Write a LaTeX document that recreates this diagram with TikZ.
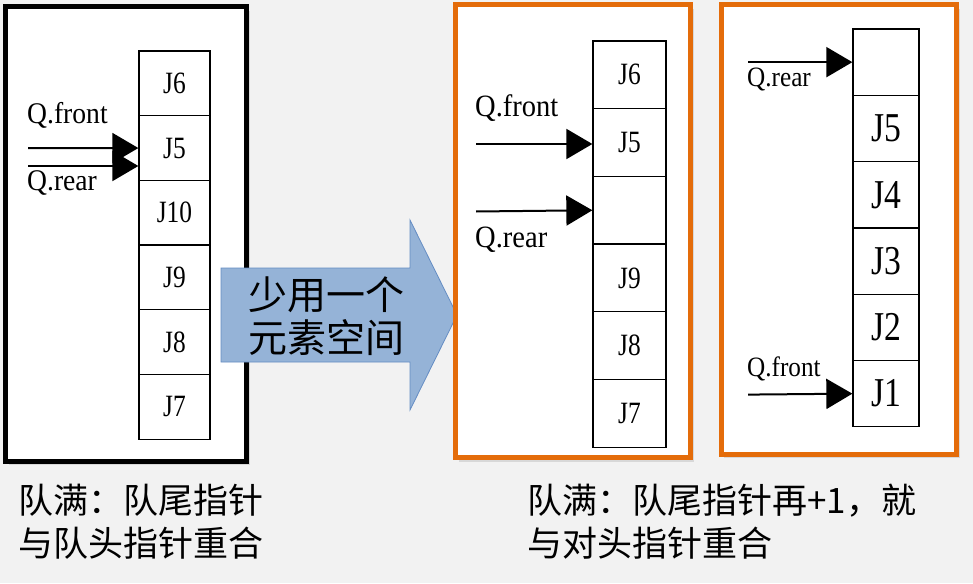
\documentclass[tikz,border=0pt]{standalone}
\usepackage{fontspec}
\setmainfont{Liberation Serif}
\newfontfamily\cjk{Noto Sans CJK SC}
\usetikzlibrary{arrows.meta}
\definecolor{pagebg}{RGB}{242,242,242}
\definecolor{frameorange}{RGB}{228,108,10}
\definecolor{arrowfill}{RGB}{149,179,215}
\definecolor{arrowedge}{RGB}{100,140,195}
% narrow serif lettering for the queue slots
\newcommand\slimtext[1]{\scalebox{0.82}[1]{#1}}
\begin{document}
\begin{tikzpicture}[x=1pt,y=-1pt,
  cellA/.style={draw, line width=1.3pt, inner sep=0pt, minimum width=71pt, minimum height=64.7pt, font=\fontsize{31}{31}\selectfont},
  cellB/.style={draw, line width=1.3pt, inner sep=0pt, minimum width=73pt, minimum height=67.7pt, font=\fontsize{31}{31}\selectfont},
  cellC/.style={draw, line width=1.3pt, inner sep=0pt, minimum width=66pt, minimum height=66.3pt, font=\fontsize{41}{41}\selectfont},
  qlabel/.style={anchor=west, inner sep=0pt, font=\fontsize{#1}{#1}\selectfont},
  ptr/.style={line width=2pt, -{Triangle[length=26pt,width=30pt]}},
  shadowbox/.style={fill=black!22, opacity=0.6},
  caption/.style={anchor=west, align=left, inner sep=0pt, font=\cjk\fontsize{35}{43}\selectfont}
]
\useasboundingbox (0,0) rectangle (973,583);
\fill[pagebg] (0,0) rectangle (973,583);

% ---- panel 1: full queue ----
\fill[shadowbox] (9,11) rectangle (250,465);
\draw[line width=5pt, fill=white] (5,7) rectangle (246,461);
\foreach \t [count=\i] in {J6,J5,J10,J9,J8,J7}
  \node[cellA] (a\i) at (174.5, {51+64.7*(\i-0.5)}) {\slimtext{\t}};
\coordinate (afs) at (28,148.05);
\coordinate (ars) at (28,166);
\draw[ptr] (afs) -- (a2.west);
\draw[ptr] (ars) -- (ars -| a2.west);
\node[qlabel=30] (afl) at (27,115) {\scalebox{0.92}[1]{Q.front}};
\node[qlabel=30] (arl) at (27,183) {\scalebox{0.92}[1]{Q.rear}};

% ---- transition arrow ----
\draw[arrowedge, line width=0.8pt, fill=arrowfill]
  (221,268) -- (410,268) -- (410,220) -- (457,315) -- (410,410) -- (410,362) -- (221,362) -- cycle;
\node[align=center, inner sep=0pt, font=\cjk\fontsize{39}{43}\selectfont] (shrink) at (326,316) {少用一个\\元素空间};

% ---- panel 2: one slot left empty ----
\fill[shadowbox] (459,9) rectangle (694,462);
\draw[frameorange, line width=5pt, fill=white] (455,5) rectangle (690,457);
\foreach \t [count=\i] in {J6,J5,\phantom{J},J9,J8,J7}
  \node[cellB] (b\i) at (629.5, {41+67.7*(\i-0.5)}) {\slimtext{\t}};
\coordinate (bfs) at (476,144);
\coordinate (brs) at (476,211.5);
\draw[ptr] (bfs) -- (bfs -| b2.west);
\draw[ptr] (brs) -- (b3.west);
\node[qlabel=31] (bfl) at (475,108) {\scalebox{0.92}[1]{Q.front}};
\node[qlabel=31] (brl) at (475,240) {\scalebox{0.92}[1]{Q.rear}};

% ---- panel 3: rear wraps round ----
\fill[shadowbox] (724,9) rectangle (960,458);
\draw[frameorange, line width=5pt, fill=white] (721,5) rectangle (956,454);
\foreach \t [count=\i] in {\phantom{J},J5,J4,J3,J2,J1}
  \node[cellC] (c\i) at (886, {29+66.3*(\i-0.5)}) {\slimtext{\t}};
\coordinate (crs) at (748,62.15);
\coordinate (cfs) at (748,394.6);
\draw[ptr] (crs) -- (c1.west);
\draw[ptr] (cfs) -- (c6.west);
\node[qlabel=28] (crl) at (747,80) {\scalebox{0.9}[1]{Q.rear}};
\node[qlabel=28] (cfl) at (747,369) {\scalebox{0.9}[1]{Q.front}};

% ---- captions ----
\node[caption] (capl) at (18,522) {队满：队尾指针\\与队头指针重合};
\node[caption] (capr) at (527,522) {队满：队尾指针再+1，就\\与对头指针重合};
\end{tikzpicture}
\end{document}
